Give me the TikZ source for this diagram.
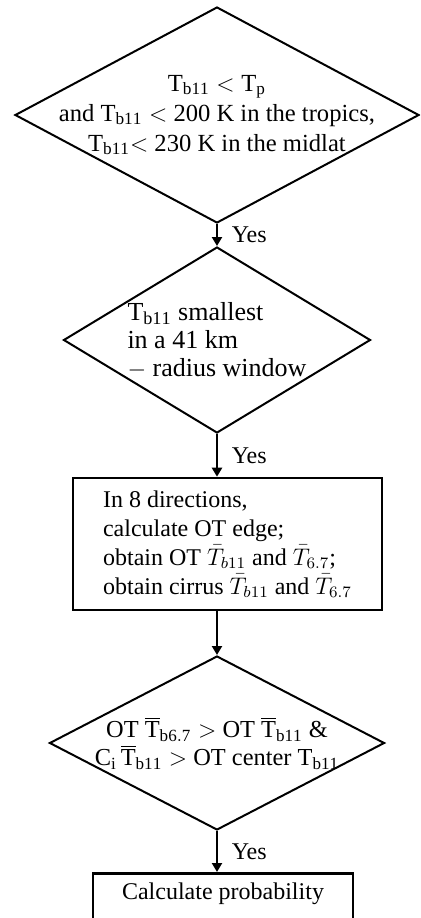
\documentclass[tikz,border=0pt]{standalone}
\usepackage{fontspec}
\setmainfont{Liberation Serif}
\usepackage{amsmath}
\usetikzlibrary{arrows.meta, shapes.geometric}

\begin{document}
\begin{tikzpicture}
  [
    x                       = 0.5pt,
    y                       = -0.5pt,
    every node/.style       = {font=\fontsize{12}{14.5}\selectfont},
    decision/.style         = {draw, diamond, line width=1pt, inner sep=0pt},
    process/.style          = {draw, rectangle, line width=1.3pt, align=left},
    flow/.style             = {line width=1.1pt, -{Triangle[width=5pt, length=4.5pt]}},
    yes/.style              = {right=3.5pt, midway}
  ]

  \useasboundingbox (0,0) rectangle (420,918);
  \clip (0,0) rectangle (420,918);

  \node[decision, minimum width=202pt, minimum height=108pt,
        label={[align=center, font=\fontsize{12.3}{15}\selectfont]center:{$\mathrm{T_{b11}} < \mathrm{T_p}$\\
          and $\mathrm{T_{b11}} <$ 200 K in the tropics,\\
          $\mathrm{T_{b11}}{<}$\ 230 K in the midlat}}]
    (tcold) at (217,115) {};

  \node[decision, minimum width=153.5pt, minimum height=93pt,
        label={[align=left, font=\fontsize{13}{14}\selectfont]center:{$\mathrm{T_{b11}}$ smallest\\
          in a 41 km\\
          $-$ radius window}}]
    (tmin) at (217,340) {};

  \node[process, minimum width=154.5pt, minimum height=66pt]
    (edge) at (227.5,544)
    {In 8 directions,\\
     calculate OT edge;\\
     obtain OT $\bar{T}_{b11}$ and $\bar{T}_{6.7}$;\\
     obtain cirrus $\bar{T}_{b11}$ and $\bar{T}_{6.7}$};

  \node[decision, minimum width=167.5pt, minimum height=87pt,
        label={[align=center, font=\fontsize{12.2}{14}\selectfont]center:{OT $\overline{\mathrm{T}}_{\mathrm{b6.7}} >$ OT $\overline{\mathrm{T}}_{\mathrm{b11}}$ \&\\
          $\mathrm{C_i}\,\overline{\mathrm{T}}_{\mathrm{b11}} >$ OT center $\mathrm{T_{b11}}$}}]
    (test) at (217,743) {};

  \node[process, anchor=north, minimum width=130pt, inner ysep=5pt,
        text height=8pt, text depth=14pt]
    (prob) at (223,872) {Calculate probability};

  \draw[flow] (tcold.south) -- node[yes] {Yes} (tmin.north);
  \draw[flow] (tmin.south) -- node[yes] {Yes} (tmin.south |- edge.north);
  \draw[flow] (tmin.south |- edge.south) -- (test.north);
  \draw[flow] (test.south) -- node[yes] {Yes} (test.south |- prob.north);
\end{tikzpicture}
\end{document}
